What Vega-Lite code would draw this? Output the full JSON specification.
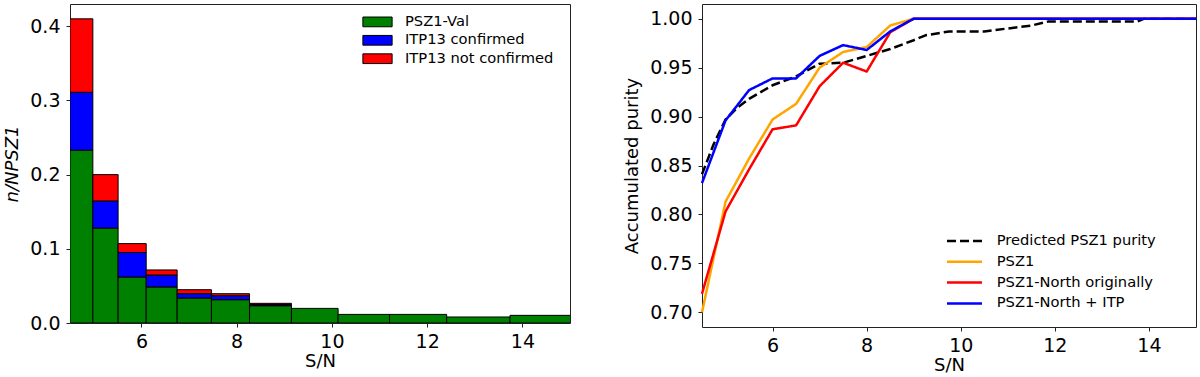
{
  "$schema": "https://vega.github.io/schema/vega-lite/v6.json",
  "padding": {"left": 2, "top": 3, "right": 4, "bottom": 0},
  "spacing": 51,
  "resolve": {"scale": {"color": "independent", "strokeDash": "independent"}, "legend": {"color": "independent", "strokeDash": "independent"}},
  "config": {
    "font": "DejaVu Sans",
    "view": {"stroke": "#222", "strokeWidth": 1},
    "axis": {"grid": false, "domain": false, "tickColor": "#222", "tickSize": 4, "labelFontSize": 19, "titleFontSize": 18, "titleFontWeight": "normal", "labelColor": "#000", "titleColor": "#000", "labelPadding": 5, "labelFont": "DejaVu Sans", "titleFont": "DejaVu Sans"},
    "axisX": {"titlePadding": 1},
    "axisY": {"titlePadding": 8.5, "labelPadding": 6},
    "legend": {"labelFontSize": 14.7, "labelFont": "DejaVu Sans", "labelColor": "#000", "padding": 0, "rowPadding": 0}
  },
  "datasets": {
    "hist": [
      {"sn_lo": 4.5, "sn_hi": 4.98, "category": "PSZ1-Val", "layer": 1, "frac": 0.233},
      {"sn_lo": 4.5, "sn_hi": 4.98, "category": "ITP13 confirmed", "layer": 2, "frac": 0.078},
      {"sn_lo": 4.5, "sn_hi": 4.98, "category": "ITP13 not confirmed", "layer": 3, "frac": 0.099},
      {"sn_lo": 4.98, "sn_hi": 5.51, "category": "PSZ1-Val", "layer": 1, "frac": 0.128},
      {"sn_lo": 4.98, "sn_hi": 5.51, "category": "ITP13 confirmed", "layer": 2, "frac": 0.0365},
      {"sn_lo": 4.98, "sn_hi": 5.51, "category": "ITP13 not confirmed", "layer": 3, "frac": 0.0355},
      {"sn_lo": 5.51, "sn_hi": 6.1, "category": "PSZ1-Val", "layer": 1, "frac": 0.062},
      {"sn_lo": 5.51, "sn_hi": 6.1, "category": "ITP13 confirmed", "layer": 2, "frac": 0.033},
      {"sn_lo": 5.51, "sn_hi": 6.1, "category": "ITP13 not confirmed", "layer": 3, "frac": 0.012},
      {"sn_lo": 6.1, "sn_hi": 6.75, "category": "PSZ1-Val", "layer": 1, "frac": 0.0486},
      {"sn_lo": 6.1, "sn_hi": 6.75, "category": "ITP13 confirmed", "layer": 2, "frac": 0.0161},
      {"sn_lo": 6.1, "sn_hi": 6.75, "category": "ITP13 not confirmed", "layer": 3, "frac": 0.0068},
      {"sn_lo": 6.75, "sn_hi": 7.47, "category": "PSZ1-Val", "layer": 1, "frac": 0.0337},
      {"sn_lo": 6.75, "sn_hi": 7.47, "category": "ITP13 confirmed", "layer": 2, "frac": 0.0058},
      {"sn_lo": 6.75, "sn_hi": 7.47, "category": "ITP13 not confirmed", "layer": 3, "frac": 0.0054},
      {"sn_lo": 7.47, "sn_hi": 8.27, "category": "PSZ1-Val", "layer": 1, "frac": 0.0314},
      {"sn_lo": 7.47, "sn_hi": 8.27, "category": "ITP13 confirmed", "layer": 2, "frac": 0.0054},
      {"sn_lo": 7.47, "sn_hi": 8.27, "category": "ITP13 not confirmed", "layer": 3, "frac": 0.0027},
      {"sn_lo": 8.27, "sn_hi": 9.15, "category": "PSZ1-Val", "layer": 1, "frac": 0.0233},
      {"sn_lo": 8.27, "sn_hi": 9.15, "category": "ITP13 confirmed", "layer": 2, "frac": 0.0015},
      {"sn_lo": 8.27, "sn_hi": 9.15, "category": "ITP13 not confirmed", "layer": 3, "frac": 0.0017},
      {"sn_lo": 9.15, "sn_hi": 10.13, "category": "PSZ1-Val", "layer": 1, "frac": 0.0197},
      {"sn_lo": 10.13, "sn_hi": 11.21, "category": "PSZ1-Val", "layer": 1, "frac": 0.0116},
      {"sn_lo": 11.21, "sn_hi": 12.41, "category": "PSZ1-Val", "layer": 1, "frac": 0.0116},
      {"sn_lo": 12.41, "sn_hi": 13.74, "category": "PSZ1-Val", "layer": 1, "frac": 0.0081},
      {"sn_lo": 13.74, "sn_hi": 15.2, "category": "PSZ1-Val", "layer": 1, "frac": 0.0103}
    ],
    "purity": [
      {"series": "Predicted PSZ1 purity", "sn": 4.5, "purity": 0.841},
      {"series": "Predicted PSZ1 purity", "sn": 4.75, "purity": 0.872},
      {"series": "Predicted PSZ1 purity", "sn": 5.0, "purity": 0.897},
      {"series": "Predicted PSZ1 purity", "sn": 5.25, "purity": 0.909},
      {"series": "Predicted PSZ1 purity", "sn": 5.5, "purity": 0.918},
      {"series": "Predicted PSZ1 purity", "sn": 6.0, "purity": 0.932},
      {"series": "Predicted PSZ1 purity", "sn": 6.5, "purity": 0.941},
      {"series": "Predicted PSZ1 purity", "sn": 7.0, "purity": 0.954},
      {"series": "Predicted PSZ1 purity", "sn": 7.5, "purity": 0.955},
      {"series": "Predicted PSZ1 purity", "sn": 8.0, "purity": 0.962},
      {"series": "Predicted PSZ1 purity", "sn": 8.5, "purity": 0.969},
      {"series": "Predicted PSZ1 purity", "sn": 9.0, "purity": 0.978},
      {"series": "Predicted PSZ1 purity", "sn": 9.25, "purity": 0.983},
      {"series": "Predicted PSZ1 purity", "sn": 9.75, "purity": 0.987},
      {"series": "Predicted PSZ1 purity", "sn": 10.5, "purity": 0.987},
      {"series": "Predicted PSZ1 purity", "sn": 11.0, "purity": 0.99},
      {"series": "Predicted PSZ1 purity", "sn": 11.5, "purity": 0.993},
      {"series": "Predicted PSZ1 purity", "sn": 11.85, "purity": 0.997},
      {"series": "Predicted PSZ1 purity", "sn": 13.75, "purity": 0.997},
      {"series": "Predicted PSZ1 purity", "sn": 13.9, "purity": 1.0},
      {"series": "Predicted PSZ1 purity", "sn": 15.0, "purity": 1.0},
      {"series": "PSZ1", "sn": 4.5, "purity": 0.7},
      {"series": "PSZ1", "sn": 5.0, "purity": 0.813},
      {"series": "PSZ1", "sn": 5.5, "purity": 0.857},
      {"series": "PSZ1", "sn": 6.0, "purity": 0.897},
      {"series": "PSZ1", "sn": 6.5, "purity": 0.913},
      {"series": "PSZ1", "sn": 7.0, "purity": 0.95},
      {"series": "PSZ1", "sn": 7.5, "purity": 0.966},
      {"series": "PSZ1", "sn": 8.0, "purity": 0.971},
      {"series": "PSZ1", "sn": 8.5, "purity": 0.993},
      {"series": "PSZ1", "sn": 9.0, "purity": 1.0},
      {"series": "PSZ1", "sn": 15.0, "purity": 1.0},
      {"series": "PSZ1-North originally", "sn": 4.5, "purity": 0.719},
      {"series": "PSZ1-North originally", "sn": 5.0, "purity": 0.803},
      {"series": "PSZ1-North originally", "sn": 5.5, "purity": 0.846},
      {"series": "PSZ1-North originally", "sn": 6.0, "purity": 0.887},
      {"series": "PSZ1-North originally", "sn": 6.5, "purity": 0.891},
      {"series": "PSZ1-North originally", "sn": 7.0, "purity": 0.931},
      {"series": "PSZ1-North originally", "sn": 7.5, "purity": 0.955},
      {"series": "PSZ1-North originally", "sn": 8.0, "purity": 0.946},
      {"series": "PSZ1-North originally", "sn": 8.5, "purity": 0.986},
      {"series": "PSZ1-North originally", "sn": 9.0, "purity": 1.0},
      {"series": "PSZ1-North originally", "sn": 15.0, "purity": 1.0},
      {"series": "PSZ1-North + ITP", "sn": 4.5, "purity": 0.832},
      {"series": "PSZ1-North + ITP", "sn": 5.0, "purity": 0.896},
      {"series": "PSZ1-North + ITP", "sn": 5.5, "purity": 0.927},
      {"series": "PSZ1-North + ITP", "sn": 6.0, "purity": 0.939},
      {"series": "PSZ1-North + ITP", "sn": 6.5, "purity": 0.939},
      {"series": "PSZ1-North + ITP", "sn": 7.0, "purity": 0.962},
      {"series": "PSZ1-North + ITP", "sn": 7.5, "purity": 0.973},
      {"series": "PSZ1-North + ITP", "sn": 8.0, "purity": 0.968},
      {"series": "PSZ1-North + ITP", "sn": 8.5, "purity": 0.987},
      {"series": "PSZ1-North + ITP", "sn": 9.0, "purity": 1.0},
      {"series": "PSZ1-North + ITP", "sn": 15.0, "purity": 1.0}
    ]
  },
  "hconcat": [
    {
      "width": 500,
      "height": 319,
      "data": {"name": "hist"},
      "transform": [
        {"stack": "frac", "groupby": ["sn_lo"], "sort": [{"field": "layer", "order": "ascending"}], "as": ["f0", "f1"]}
      ],
      "mark": {"type": "bar", "stroke": "#000", "strokeWidth": 1, "clip": true},
      "encoding": {
        "x": {"field": "sn_lo", "type": "quantitative", "scale": {"domain": [4.5, 15], "nice": false, "zero": false}, "axis": {"values": [6, 8, 10, 12, 14], "title": "S/N", "format": "d"}},
        "x2": {"field": "sn_hi"},
        "y": {"field": "f0", "type": "quantitative", "scale": {"domain": [0, 0.43], "nice": false}, "axis": {"values": [0, 0.1, 0.2, 0.3, 0.4], "format": ".1f", "title": "n/NPSZ1", "titleFontStyle": "italic"}},
        "y2": {"field": "f1"},
        "color": {"field": "category", "type": "nominal", "scale": {"domain": ["PSZ1-Val", "ITP13 confirmed", "ITP13 not confirmed"], "range": ["#008000", "#0000ff", "#ff0000"]}, "legend": {"title": null, "orient": "none", "legendX": 297, "legendY": 7.4, "symbolType": "M-1.5,-0.5H1.5V0.5H-1.5Z", "symbolSize": 380, "symbolStrokeColor": "#000", "symbolStrokeWidth": 1, "labelOffset": 17, "rowPadding": 0.4}}
      }
    },
    {
      "width": 494,
      "height": 323,
      "data": {"name": "purity"},
      "mark": {"type": "line", "strokeWidth": 2.5, "strokeJoin": "round"},
      "encoding": {
        "x": {"field": "sn", "type": "quantitative", "scale": {"domain": [4.5, 15], "nice": false, "zero": false}, "axis": {"values": [6, 8, 10, 12, 14], "title": "S/N", "format": "d"}},
        "y": {"field": "purity", "type": "quantitative", "scale": {"domain": [0.685, 1.015], "nice": false, "zero": false}, "axis": {"values": [0.7, 0.75, 0.8, 0.85, 0.9, 0.95, 1.0], "format": ".2f", "title": "Accumulated purity"}},
        "color": {"field": "series", "type": "nominal", "scale": {"domain": ["Predicted PSZ1 purity", "PSZ1", "PSZ1-North originally", "PSZ1-North + ITP"], "range": ["#000000", "#ffa500", "#ff0000", "#0000ff"]}, "legend": {"title": null, "orient": "none", "legendX": 251, "legendY": 225.5, "symbolType": "M-1.75,0H1.75", "symbolSize": 400, "symbolStrokeWidth": 2.5, "rowPadding": 1.8, "labelOffset": 20.7}},
        "strokeDash": {"field": "series", "type": "nominal", "scale": {"domain": ["Predicted PSZ1 purity", "PSZ1", "PSZ1-North originally", "PSZ1-North + ITP"], "range": [[9, 4], [1, 0], [1, 0], [1, 0]]}, "legend": {"title": null, "orient": "none", "legendX": 251, "legendY": 225.5, "symbolType": "M-1.75,0H1.75", "symbolSize": 400, "symbolStrokeWidth": 2.5, "rowPadding": 1.8, "labelOffset": 20.7}}
      }
    }
  ]
}
